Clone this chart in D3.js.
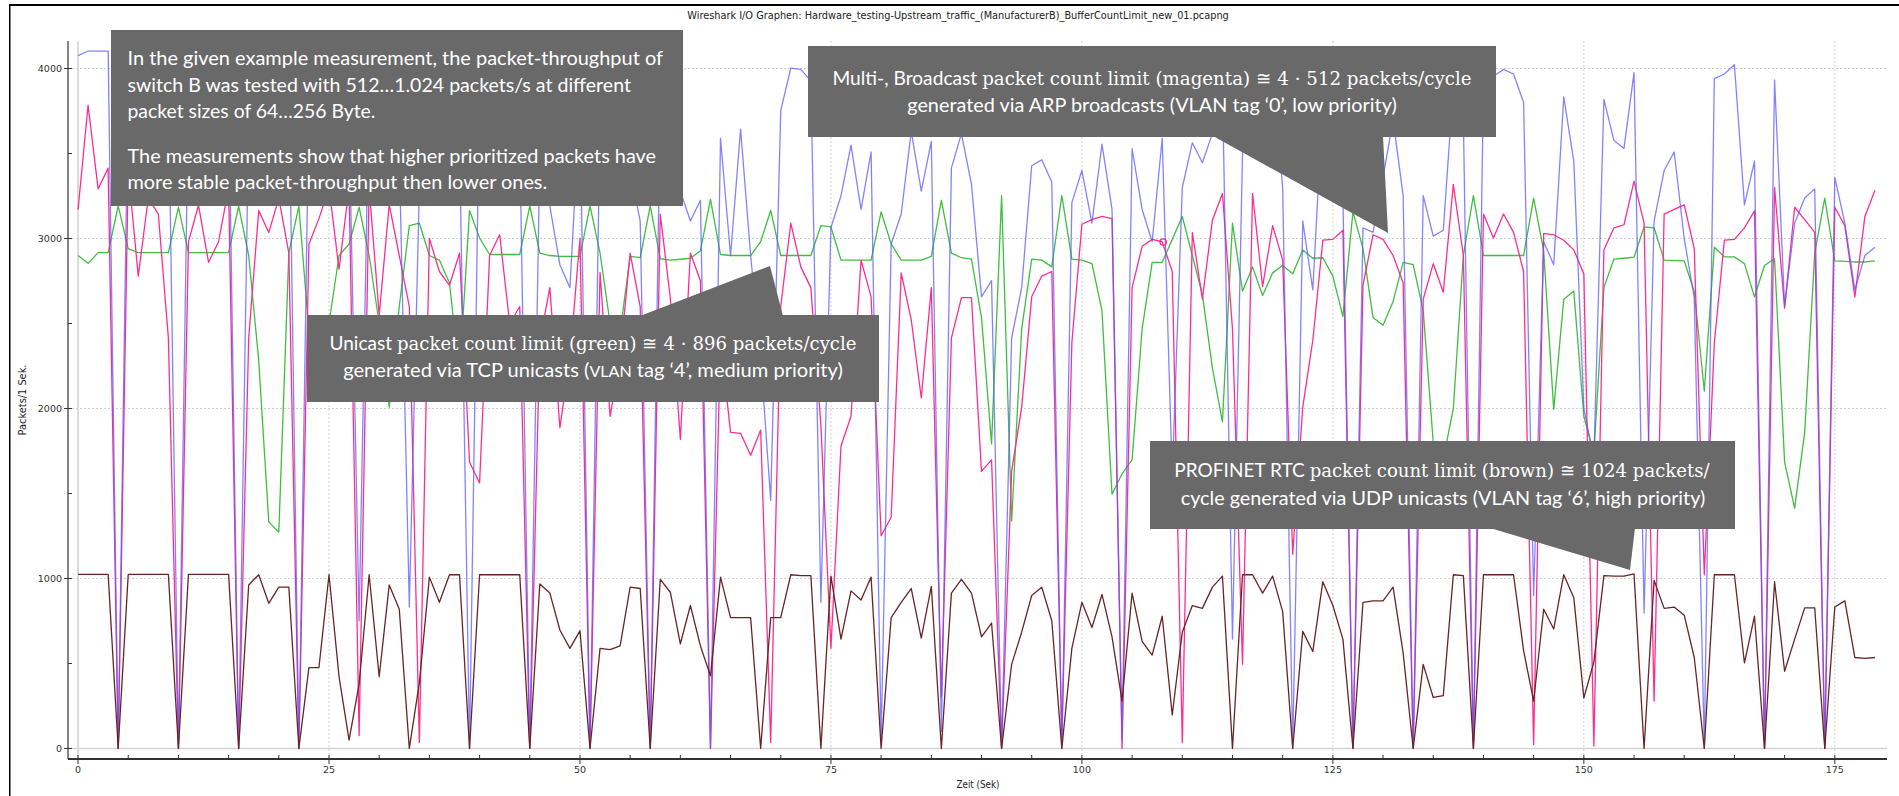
<!DOCTYPE html>
<html>
<head>
<meta charset="utf-8">
<script src="https://cdn.jsdelivr.net/npm/d3@7"></script>
<style>
  html, body { margin: 0; padding: 0; background: #fff; }
  svg { display: block; }
</style>
</head>
<body>
<div id="chart"></div>
<script>
// packets per second, one value per second (t = 0..179)
var seconds = d3.range(180);

var allPackets = [
  4076,4103,4103,4103,0,3950,3800,4000,3700,3900,
  0,3850,3700,3950,3800,3900,0,3700,3900,3600,
  3800,3950,0,3800,3650,3900,3500,3700,750,3900,
  3600,3800,3500,833,3300,3900,3700,3850,3600,0,
  3900,3700,3950,3800,3600,0,3500,3190,2846,2711,
  3800,0,3700,3900,3600,3400,3103,0,3800,3600,
  3279,3103,3225,0,3590,2900,3644,2900,2300,1460,
  3752,4003,3995,3927,860,3063,3252,3549,3171,3509,
  50,2968,3144,3630,3279,3571,100,3414,3617,3319,
  2657,2752,0,2414,2711,3428,3463,3333,0,3211,
  3400,3090,3555,3171,50,3528,3171,2981,3590,1600,
  3300,3563,3446,3617,3900,643,3500,3900,3700,3950,
  3300,0,3103,2698,3800,3700,3252,0,3063,3036,
  3360,3698,3252,0,3252,3014,3049,3900,3700,0,
  3900,3955,3995,3968,3800,900,2981,2846,3833,3455,
  2000,1700,3819,3576,3530,3976,797,3103,3400,3509,
  3000,2650,0,3941,3968,4022,3198,3455,0,3933,
  2603,3090,3238,3292,0,3360,3090,2698,2900,2949
];

var broadcastPackets = [
  3170,3784,3292,3414,0,3400,2779,3240,3143,2414,
  0,2980,3197,2860,2981,3300,0,2414,3165,3035,
  3238,2914,0,2968,3117,3300,2819,3300,76,3300,
  2549,3200,2900,2600,35,3000,2806,2725,2914,1684,
  1562,2900,3022,2500,2600,0,2400,2711,1887,2300,
  3000,0,2800,1954,2300,2914,2600,0,3143,2650,
  1819,2914,2752,0,2400,1860,1854,1725,1873,35,
  2600,3090,2833,2711,1900,589,1779,1954,2873,2657,
  1251,1360,2798,2522,2062,2711,305,2414,2652,2652,
  1630,1698,0,1630,2008,2657,2779,2806,50,2387,
  3084,3111,3130,3117,0,2711,2954,2995,2981,2806,
  35,3036,2643,3108,3265,2468,495,3265,2717,3076,
  2873,1143,2008,2400,2990,2995,3049,0,2725,3022,
  2995,2900,2738,0,2643,2852,2684,3319,2900,0,
  3144,3003,3144,3036,2806,22,3030,3022,2990,2933,
  2792,14,2933,3063,3081,3338,3090,278,3144,3171,
  3198,2941,1022,2387,2990,2995,3063,3163,0,3300,
  2590,3184,3111,3036,0,3184,3076,2657,3130,3284
];

var unicastPackets = [
  2900,2854,2917,2917,3192,2940,2917,2917,2917,2917,
  3185,2917,2917,2917,2917,2917,3190,2900,2280,1333,
  1273,2917,3190,2450,2050,2500,2900,2968,3184,2900,
  2500,2008,2600,3076,3090,2900,2873,2738,2200,3165,
  3003,2906,2906,2906,2906,3192,2914,2900,2895,2895,
  2895,3192,2914,2500,2450,2895,2887,3192,2881,2873,
  2878,2884,2927,3230,2906,2900,2900,2900,2981,3165,
  2900,2900,2900,2900,3076,3068,2873,2873,2873,2873,
  3157,2968,2873,2873,2873,2895,3225,2914,2887,2879,
  2535,1792,3252,1338,2468,2879,2873,2833,3252,2879,
  2873,2852,2576,1495,1616,1698,2468,2860,2860,2995,
  3130,2900,2671,2238,1922,3090,2690,2833,2665,2798,
  2841,2792,2933,2884,2887,2779,2541,3157,2941,2535,
  2490,2630,2860,2846,2576,1800,1700,2000,2900,3252,
  2900,2900,2900,2900,2900,3238,2927,1995,2643,2690,
  1954,1738,2711,2879,2884,2890,3068,3063,2873,2870,
  2868,2690,2103,2949,2892,2892,2852,2657,2841,2881,
  1684,1414,1860,2914,3238,2868,2865,2862,2862,2868
];

var rtcPackets = [
  1024,1024,1024,1024,0,1024,1024,1024,1024,1024,
  0,1024,1024,1024,1024,1024,0,962,1022,854,
  949,949,0,476,476,1022,422,49,380,1022,
  422,962,819,0,386,1008,860,1022,1022,0,
  1022,1022,1022,1022,1022,0,968,914,697,589,
  692,0,589,581,603,949,941,0,995,919,
  616,841,603,427,1008,770,770,770,0,770,
  770,1022,1017,1017,0,1014,643,927,873,1008,
  0,770,860,941,649,954,0,914,995,914,
  657,738,0,495,684,900,949,751,0,589,
  860,711,906,657,278,914,630,549,778,197,
  684,841,824,949,1014,0,1022,1022,914,1014,
  805,0,689,570,981,841,643,0,860,868,
  868,949,562,0,495,300,311,1022,1017,0,
  1022,1022,1022,1022,576,278,819,703,1022,887,
  297,508,1017,1014,1014,1027,0,989,824,832,
  784,535,0,1022,1022,1022,503,778,0,981,
  454,643,827,827,0,832,868,535,530,535
];

var yTicks = [0, 1000, 2000, 3000, 4000];
var xTicks = [0, 25, 50, 75, 100, 125, 150, 175];

var titleText = "Wireshark I/O Graphen: Hardware_testing-Upstream_traffic_(ManufacturerB)_BufferCountLimit_new_01.pcapng";

var W = 1899, H = 796;
var SANS = "Lato, 'Open Sans', sans-serif";
var SERIF = "'DejaVu Serif', 'Liberation Serif', serif";

var svg = d3.select("#chart").append("svg")
    .attr("width", W)
    .attr("height", H);

var x = d3.scaleLinear().domain([-1, 180.2]).range([68, 1887]);
var y = d3.scaleLinear().domain([-62, 4162]).range([759, 41]);

// window frame
svg.append("rect").attr("x", 9).attr("y", 4).attr("width", W - 9).attr("height", 2).attr("fill", "#000");
svg.append("rect").attr("x", 9).attr("y", 4).attr("width", 1.5).attr("height", H - 4).attr("fill", "#000");

// squeeze or stretch a text element so it spans the given width
function fitWidth(t, px, py, width) {
  var w = t.node().getComputedTextLength();
  t.attr("transform", "translate(" + px + "," + py + ") scale(" + (width / w) + ",1)");
}

var title = svg.append("text")
    .attr("text-anchor", "middle")
    .style("font-family", "'DejaVu Sans', sans-serif")
    .style("font-size", "10px")
    .attr("fill", "#222")
    .text(titleText);
fitWidth(title, 958, 18.5, 542);

// grid
var grid = svg.append("g");
grid.selectAll("line.hg").data(yTicks).enter().append("line")
    .attr("x1", 68).attr("x2", 1887)
    .attr("y1", function(d) { return y(d); })
    .attr("y2", function(d) { return y(d); })
    .attr("stroke", function(d) { return d === 0 ? "#d4d4d4" : "#cfcfcf"; })
    .attr("stroke-width", function(d) { return d === 0 ? 1.6 : 1; })
    .attr("stroke-dasharray", function(d) { return d === 0 ? null : "2,2"; });
grid.selectAll("line.vg").data(xTicks).enter().append("line")
    .attr("y1", 41).attr("y2", 759)
    .attr("x1", function(d) { return x(d); })
    .attr("x2", function(d) { return x(d); })
    .attr("stroke", function(d) { return d === 0 ? "#d4d4d4" : "#cfcfcf"; })
    .attr("stroke-width", function(d) { return d === 0 ? 1.6 : 1; })
    .attr("stroke-dasharray", function(d) { return d === 0 ? null : "2,2"; });

// axes
var axisColor = "#333";
svg.append("line").attr("x1", 68).attr("x2", 68).attr("y1", 41).attr("y2", 759)
    .attr("stroke", axisColor).attr("stroke-width", 1.2);
svg.append("line").attr("x1", 68).attr("x2", 1887).attr("y1", 759).attr("y2", 759)
    .attr("stroke", axisColor).attr("stroke-width", 1.8);

var yMinor = d3.range(500, 4001, 1000);
svg.selectAll("line.ymaj").data(yTicks).enter().append("line")
    .attr("x1", 64).attr("x2", 72)
    .attr("y1", function(d) { return y(d); }).attr("y2", function(d) { return y(d); })
    .attr("stroke", axisColor);
svg.selectAll("line.ymin").data(yMinor).enter().append("line")
    .attr("x1", 68).attr("x2", 72)
    .attr("y1", function(d) { return y(d); }).attr("y2", function(d) { return y(d); })
    .attr("stroke", axisColor);

var xMinor = d3.range(5, 180, 5).filter(function(d) { return d % 25 !== 0; });
svg.selectAll("line.xmaj").data(xTicks).enter().append("line")
    .attr("y1", 755).attr("y2", 764)
    .attr("x1", function(d) { return x(d); }).attr("x2", function(d) { return x(d); })
    .attr("stroke", axisColor);
svg.selectAll("line.xmin").data(xMinor).enter().append("line")
    .attr("y1", 755).attr("y2", 759)
    .attr("x1", function(d) { return x(d); }).attr("x2", function(d) { return x(d); })
    .attr("stroke", axisColor);

svg.selectAll("text.ylab").data(yTicks).enter().append("text")
    .attr("x", 62).attr("y", function(d) { return y(d) + 3.5; })
    .attr("text-anchor", "end")
    .style("font-family", "'DejaVu Sans', sans-serif")
    .style("font-size", "9.5px")
    .attr("fill", "#333")
    .text(function(d) { return d; });
svg.selectAll("text.xlab").data(xTicks).enter().append("text")
    .attr("x", function(d) { return x(d); }).attr("y", 773)
    .attr("text-anchor", "middle")
    .style("font-family", "'DejaVu Sans', sans-serif")
    .style("font-size", "9.5px")
    .attr("fill", "#333")
    .text(function(d) { return d; });

var xLabel = svg.append("text")
    .attr("text-anchor", "middle")
    .style("font-family", "'DejaVu Sans', sans-serif")
    .style("font-size", "10px")
    .attr("fill", "#222")
    .text("Zeit (Sek)");
fitWidth(xLabel, 978, 788, 43);

var yLabel = svg.append("text")
    .attr("text-anchor", "middle")
    .style("font-family", "'DejaVu Sans', sans-serif")
    .style("font-size", "10px")
    .attr("fill", "#222")
    .text("Packets/1 Sek.");
fitWidth(yLabel, 0, 0, 71);
yLabel.attr("transform", "translate(26,400) rotate(-90) " + yLabel.attr("transform").replace("translate(0,0) ", ""));

// series
svg.append("clipPath").attr("id", "plotclip").append("rect")
    .attr("x", 68).attr("y", 41).attr("width", 1819).attr("height", 718);

var line = d3.line()
    .x(function(d, i) { return x(seconds[i]); })
    .y(function(d) { return y(d); });

var plot = svg.append("g").attr("clip-path", "url(#plotclip)");
var series = [
  { values: unicastPackets, color: "#3fbf3f", opacity: 1 },
  { values: broadcastPackets, color: "#ff2d8e", opacity: 1 },
  { values: allPackets, color: "#5a5aff", opacity: 0.75 },
  { values: rtcPackets, color: "#6a2424", opacity: 1 }
];
plot.selectAll("path.series").data(series).enter().append("path")
    .attr("d", function(s) { return line(s.values); })
    .attr("fill", "none")
    .attr("stroke", function(s) { return s.color; })
    .attr("stroke-opacity", function(s) { return s.opacity; })
    .attr("stroke-width", 1.3)
    .attr("stroke-linejoin", "round");

// cursor mark on the magenta series
plot.append("circle")
    .attr("cx", x(108.1)).attr("cy", y(2979)).attr("r", 3.2)
    .attr("fill", "none").attr("stroke", "#ff2d8e").attr("stroke-width", 1.3);

// callout boxes
var BOX = "#696969";
var notes = svg.append("g");

function box(x0, y0, x1, y1, pointer) {
  notes.append("rect").attr("x", x0).attr("y", y0)
      .attr("width", x1 - x0).attr("height", y1 - y0).attr("fill", BOX);
  if (pointer) {
    notes.append("polygon")
        .attr("points", pointer.map(function(p) { return p.join(","); }).join(" "))
        .attr("fill", BOX);
  }
}

function noteLine(parts, px, py, width, anchor) {
  var t = notes.append("text")
      .attr("text-anchor", anchor || "middle")
      .attr("dy", "0.35em")
      .attr("fill", "#fff");
  parts.forEach(function(p) {
    t.append("tspan")
        .style("font-family", p.serif ? SERIF : SANS)
        .style("font-size", (p.size || (p.serif ? 19 : 20)) + "px")
        .text(p.text);
  });
  fitWidth(t, px, py, width);
}

box(111, 30, 683, 206);
noteLine([{ text: "In the given example measurement, the packet-throughput of" }], 127.5, 59.5, 536, "start");
noteLine([{ text: "switch B was tested with 512…1.024 packets/s at different" }], 127.5, 86, 504, "start");
noteLine([{ text: "packet sizes of 64…256 Byte." }], 127.5, 112.5, 248, "start");
noteLine([{ text: "The measurements show that higher prioritized packets have" }], 127.5, 157, 529, "start");
noteLine([{ text: "more stable packet-throughput then lower ones." }], 127.5, 183.5, 420, "start");

box(808, 46, 1496, 137, [[1213, 136], [1383, 136], [1388, 233]]);
noteLine([{ text: "Multi-, Broadcast " }, { text: "packet count limit (magenta) ≅ 4 · 512 packets/cycle", serif: true }], 1152, 79, 639);
noteLine([{ text: "generated via ARP broadcasts (VLAN tag ‘0’, low priority)" }], 1152, 106.5, 490);

box(307, 315, 879, 402, [[640, 316], [783, 316], [770, 266]]);
noteLine([{ text: "Unicast " }, { text: "packet count limit (green) ≅ 4 · 896 packets/cycle", serif: true }], 593, 344.5, 527);
noteLine([{ text: "generated via TCP unicasts (" }, { text: "VLAN", size: 16 }, { text: " tag ‘4’, medium priority)" }], 593, 371, 500);

box(1150, 441, 1735, 529, [[1490, 528], [1635, 528], [1630, 570]]);
noteLine([{ text: "PROFINET RTC " }, { text: "packet count limit (brown) ≅ 1024 packets/", serif: true }], 1442, 471.5, 535);
noteLine([{ text: "cycle generated via UDP unicasts (VLAN tag ‘6’, high priority)" }], 1443, 499, 525);
</script>
</body>
</html>
